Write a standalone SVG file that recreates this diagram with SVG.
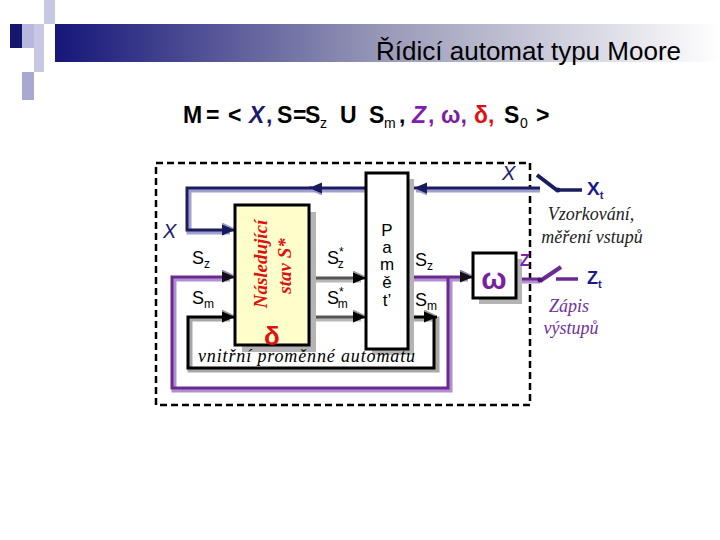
<svg xmlns="http://www.w3.org/2000/svg" width="720" height="540" viewBox="0 0 720 540">
<defs>
<linearGradient id="band" x1="0" y1="0" x2="1" y2="0">
<stop offset="0" stop-color="#16167a"/>
<stop offset="0.5" stop-color="#9a9ab8"/>
<stop offset="1" stop-color="#ffffff"/>
</linearGradient>
<marker id="aN" markerUnits="userSpaceOnUse" markerWidth="16" markerHeight="14" refX="13" refY="7" orient="auto">
<path d="M0,0 L13,6 L0,12 Z" fill="#9a9ac8" transform="translate(-1,-1)"/>
<path d="M0,1.5 L13,7 L0,12.5 Z" fill="#1a1a5e"/>
</marker>
<marker id="aK" markerUnits="userSpaceOnUse" markerWidth="16" markerHeight="14" refX="13" refY="7" orient="auto">
<path d="M0,0 L13,6 L0,12 Z" fill="#9a9a9a" transform="translate(-1,-1)"/>
<path d="M0,1.5 L13,7 L0,12.5 Z" fill="#000"/>
</marker>
<marker id="aP" markerUnits="userSpaceOnUse" markerWidth="16" markerHeight="14" refX="13" refY="7" orient="auto">
<path d="M0,0 L13,6 L0,12 Z" fill="#9a80b0" transform="translate(-1,-1)"/>
<path d="M0,1.5 L13,7 L0,12.5 Z" fill="#111"/>
</marker>
</defs>
<style>
.sans{font-family:"Liberation Sans",Arial,sans-serif}
.ser{font-family:"Liberation Serif","Times New Roman",serif;font-style:italic}
.box{stroke:#000;stroke-width:3}
.shadow{fill:#b4b4b4}
.nvL{fill:none;stroke:#a0a0d0;stroke-width:5}
.nvD{fill:none;stroke:#1c1c60;stroke-width:3}
.puL{fill:none;stroke:#b090d0;stroke-width:5}
.puD{fill:none;stroke:#6a2a90;stroke-width:3}
.bkL{fill:none;stroke:#a8a8a8;stroke-width:5}
.bkD{fill:none;stroke:#000;stroke-width:3}
.gyL{fill:none;stroke:#b8b8b8;stroke-width:5}
.gyD{fill:none;stroke:#555;stroke-width:3}
.lbl{font-family:"Liberation Sans",Arial,sans-serif;font-size:18px;fill:#000}
.sub{font-size:12px}
</style>

<g id="header">
<rect x="44" y="0" width="11" height="24" fill="#c8c8e4"/>
<rect x="10" y="24" width="12" height="24" fill="#16166e"/>
<rect x="22" y="24" width="12" height="24" fill="#b8b8dc"/>
<rect x="34" y="24" width="10" height="48" fill="#c8c8e4"/>
<rect x="22" y="72" width="12" height="28" fill="#a8a8d0"/>
<rect x="55" y="24" width="665" height="38" fill="url(#band)"/>
<text x="681" y="60" text-anchor="end" class="sans" font-size="26" fill="#000">Řídicí automat typu Moore</text>
</g>

<g id="formula" class="sans" font-size="23" font-weight="bold" fill="#000">
<text x="183" y="123">M</text>
<text x="206" y="123">=</text>
<text x="228" y="123">&lt;</text>
<text x="249" y="123" fill="#1a1a6e" font-style="italic">X</text>
<text x="266" y="123" fill="#1a1a6e">,</text>
<text x="277" y="123">S</text>
<text x="293" y="123">=</text>
<text x="305" y="123">S</text>
<text x="320" y="128" font-size="14" font-weight="normal">z</text>
<text x="340" y="123">U</text>
<text x="369" y="123">S</text>
<text x="384" y="128" font-size="14" font-weight="normal">m</text>
<text x="399" y="123">,</text>
<text x="412" y="123" fill="#8020b0" font-style="italic">Z</text>
<text x="428" y="123" fill="#8020b0">,</text>
<text x="441" y="123" fill="#7a1fa0">ω,</text>
<text x="474" y="123" fill="#e01010">δ,</text>
<text x="504" y="123">S</text>
<text x="520" y="128" font-size="14" font-weight="normal">0</text>
<text x="536" y="123">&gt;</text>
</g>

<rect id="boundary" x="156" y="163" width="374" height="242" fill="none" stroke="#000" stroke-width="2.5" stroke-dasharray="7,4"/>

<g id="connectors">
<path class="nvL" d="M540,190 H416"/>
<path class="nvD" d="M540,188 H414" marker-end="url(#aN)"/>
<path class="nvL" d="M366,190 H312"/>
<path class="nvD" d="M366,188 H309" marker-end="url(#aN)"/>
<path class="nvL" d="M312,190 H189 V232 H230"/>
<path class="nvD" d="M312,188 H187 V230 H235" marker-end="url(#aN)"/>
<path class="puL" d="M414,279 H468 M450,279 V390 H174 V279 H230"/>
<path class="puD" d="M414,277 H473" marker-end="url(#aP)"/>
<path class="puD" d="M448,277 V388 H172 V277 H235" marker-end="url(#aP)"/>
<path class="bkL" d="M414,319 H437 V370 H190 V319 H230"/>
<path class="bkD" d="M414,317 H437" marker-end="url(#aK)"/>
<path class="bkD" d="M434,317 V368 H188 V317 H235" marker-end="url(#aK)"/>
<path class="gyL" d="M316,280 H361 M316,319 H361"/>
<path class="gyD" d="M309,278 H366" marker-end="url(#aK)"/>
<path class="gyD" d="M309,317 H366" marker-end="url(#aK)"/>
<path class="puL" d="M522,281 H540"/>
<path class="puD" d="M516,279 H540"/>
<path d="M540,281 L561,267" stroke="#6a2a90" stroke-width="4" fill="none"/>
<path d="M556,279 H578" stroke="#6a2a90" stroke-width="3.5" fill="none"/>
<circle cx="540" cy="280" r="2.5" fill="#4a1a70"/>
<path d="M537,175 L558,191" stroke="#1c1c60" stroke-width="4" fill="none"/>
<path d="M558,190 H582" stroke="#1c1c60" stroke-width="3.5" fill="none"/>
<circle cx="558" cy="190" r="2.5" fill="#1c1c60"/>
</g>

<g id="delta">
<rect class="shadow" x="242" y="212" width="74" height="140"/>
<rect class="box" x="235" y="205" width="74" height="140" fill="#ffffcc"/>
<text transform="translate(267,264) rotate(-90)" text-anchor="middle" class="ser" font-weight="bold" font-size="19" fill="#e01010">Následující</text>
<text transform="translate(291,266) rotate(-90)" text-anchor="middle" class="ser" font-weight="bold" font-size="19" fill="#e01010">stav S*</text>
<text x="272" y="345" text-anchor="middle" class="sans" font-weight="bold" font-size="26" fill="#e01010">δ</text>
</g>

<g id="memory">
<rect class="shadow" x="372" y="179" width="42" height="176"/>
<rect class="box" x="366" y="173" width="42" height="176" fill="#fff"/>
<g class="sans" font-size="17" text-anchor="middle" fill="#000">
<text x="387" y="236">P</text>
<text x="387" y="253">a</text>
<text x="387" y="270">m</text>
<text x="387" y="288">ě</text>
<text x="387" y="306">t’</text>
</g>
</g>

<g id="omega">
<rect class="shadow" x="479" y="259" width="43" height="45"/>
<rect class="box" x="473" y="253" width="43" height="45" fill="#fff"/>
<text x="494" y="289" text-anchor="middle" class="sans" font-weight="bold" font-size="30" fill="#7a1fa0">ω</text>
</g>

<g id="labels">
<text x="163" y="238" class="sans" font-style="italic" font-size="20" fill="#1a1a6e">X</text>
<text x="502" y="180" class="sans" font-style="italic" font-size="20" fill="#1a1a6e">X</text>
<text x="192" y="264" class="lbl">S<tspan class="sub" dy="4">z</tspan></text>
<text x="192" y="304" class="lbl">S<tspan class="sub" dy="4">m</tspan></text>
<text x="327" y="264" class="lbl">S<tspan class="sub" dy="-8">*</tspan><tspan class="sub" dx="-6" dy="12">z</tspan></text>
<text x="327" y="304" class="lbl">S<tspan class="sub" dy="-8">*</tspan><tspan class="sub" dx="-6" dy="12">m</tspan></text>
<text x="415" y="266" class="lbl">S<tspan class="sub" dy="4">z</tspan></text>
<text x="415" y="306" class="lbl">S<tspan class="sub" dy="4">m</tspan></text>
<text x="198" y="362" class="ser" font-size="18" textLength="217" fill="#000">vnitřní proměnné automatu</text>
<text x="520" y="266" class="sans" font-weight="bold" font-size="16" fill="#8020b0">Z</text>
<text x="587" y="195" class="sans" font-weight="bold" font-size="19" fill="#1a1a8e">X<tspan font-size="11" dy="4">t</tspan></text>
<text x="587" y="284" class="sans" font-weight="bold" font-size="18" fill="#1a1a8e">Z<tspan font-size="11" dy="4">t</tspan></text>
<text x="591" y="220" text-anchor="middle" class="ser" font-size="18" fill="#222">Vzorkování,</text>
<text x="592" y="243" text-anchor="middle" class="ser" font-size="18" fill="#222">měření vstupů</text>
<text x="569" y="312" text-anchor="middle" class="ser" font-size="18" fill="#7030a0">Zápis</text>
<text x="571" y="334" text-anchor="middle" class="ser" font-size="18" fill="#7030a0">výstupů</text>
</g>
</svg>
